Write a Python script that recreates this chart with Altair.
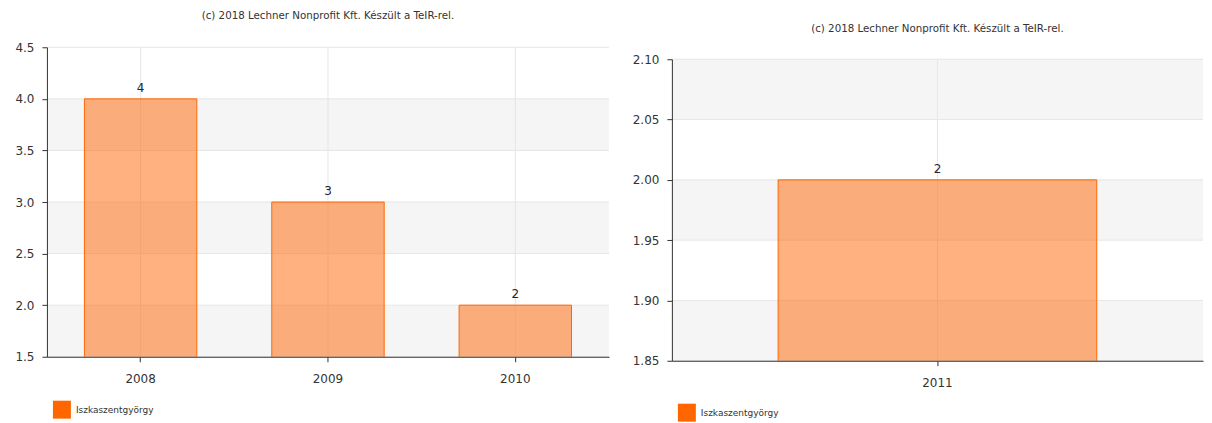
import altair as alt
import pandas as pd

series_name = "Iszkaszentgyörgy"
credit = "(c) 2018 Lechner Nonprofit Kft. Készült a TeIR-rel."

left_years = ["2008", "2009", "2010"]
left_values = [4, 3, 2]
left_ticks = [1.5, 2.0, 2.5, 3.0, 3.5, 4.0, 4.5]
left_band_starts = [1.5, 2.5, 3.5]
left_band_ends = [2.0, 3.0, 4.0]

right_years = ["2011"]
right_values = [2]
right_ticks = [1.85, 1.90, 1.95, 2.00, 2.05, 2.10]
right_band_starts = [1.85, 1.95, 2.05]
right_band_ends = [1.90, 2.00, 2.10]

FONT = "DejaVu Sans"
ORANGE = "#ff6600"
GRID = "#e6e6e6"


def panel(years, values, ticks, bs, be, width, height, fmt, legend_y, min_extent, title_text=None):
    df = pd.DataFrame({"year": years, "value": values, "series": [series_name] * len(years)})
    bands = pd.DataFrame({"lo": bs, "hi": be})
    tick_df = pd.DataFrame({"t": ticks})
    year_df = pd.DataFrame({"year": years})
    yscale = alt.Scale(domain=[ticks[0], ticks[-1]], nice=False, zero=False)
    xscale = alt.Scale(domain=years, paddingInner=0.4, paddingOuter=0.2)
    yaxis = alt.Axis(values=ticks, format=fmt, grid=False,
                     domainColor="#333333", tickColor="#333333", tickSize=5,
                     labelFontSize=12, labelFont=FONT, labelColor="#333333",
                     labelPadding=8, minExtent=min_extent, title=None, zindex=1)
    xaxis = alt.Axis(title=None, grid=False, labelAngle=0,
                     domainColor="#333333", tickColor="#333333", tickSize=5,
                     labelFontSize=12, labelFont=FONT, labelColor="#333333",
                     labelPadding=12, zindex=1)
    band_layer = alt.Chart(bands).mark_rect(color="#f5f5f5").encode(
        y=alt.Y("lo:Q", scale=yscale, axis=yaxis),
        y2="hi:Q",
    )
    grid_h = alt.Chart(tick_df).mark_rule(color=GRID, strokeWidth=1).encode(
        y=alt.Y("t:Q", scale=yscale, axis=yaxis),
    )
    grid_v = alt.Chart(year_df).mark_rule(color=GRID, strokeWidth=1).encode(
        x=alt.X("year:N", scale=xscale, axis=xaxis, sort=years),
    )
    bars = alt.Chart(df).mark_bar(fillOpacity=0.5, stroke=ORANGE, strokeWidth=1, clip=True).encode(
        x=alt.X("year:N", scale=xscale, axis=xaxis, sort=years),
        y=alt.Y("value:Q", scale=yscale, axis=yaxis),
        color=alt.Color("series:N", scale=alt.Scale(domain=[series_name], range=[ORANGE]),
                        legend=alt.Legend(title=None, orient="none", legendX=6, legendY=legend_y,
                                          symbolType="square", symbolSize=324, symbolOpacity=1,
                                          symbolStrokeWidth=0, labelFont=FONT, labelFontSize=9,
                                          labelColor="#333333", padding=0, labelOffset=5)),
    )
    labels = alt.Chart(df).mark_text(baseline="bottom", dy=-4, fontSize=12, font=FONT,
                                     color="#222233").encode(
        x=alt.X("year:N", scale=xscale, sort=years),
        y=alt.Y("value:Q", scale=yscale),
        text=alt.Text("value:Q", format="d"),
    )
    layered = alt.layer(band_layer, grid_h, grid_v, bars, labels).properties(
        width=width, height=height,
    ).resolve_scale(color="independent")
    if title_text is not None:
        layered = layered.properties(title=title_text)
    return layered


def credit_title(offset):
    return alt.TitleParams(text=credit, fontSize=10.3, font=FONT, fontWeight="normal",
                           color="#333333", offset=offset, anchor="middle")


left = panel(left_years, left_values, left_ticks, left_band_starts, left_band_ends,
             563, 310, ".1f", 354, 39, credit_title(20))
right = panel(right_years, right_values, right_ticks, right_band_starts, right_band_ends,
              532, 302, ".2f", 345, 40)

# empty header cell carrying the right panel's credit line, just above the right plot
right_header = alt.Chart(pd.DataFrame({"s": [0]})).mark_point(opacity=0).properties(
    width=532, height=1, title=credit_title(11)
)

chart = alt.hconcat(
    alt.vconcat(left),
    alt.vconcat(right_header, right, spacing=2),
    spacing=22,
).resolve_scale(
    color="independent", y="independent", x="independent"
).properties(
    padding={"left": 0, "top": 2, "right": 0, "bottom": 0}
).configure_view(stroke=None)

chart.save("out.html", embed_options={"renderer": "svg", "actions": False})
